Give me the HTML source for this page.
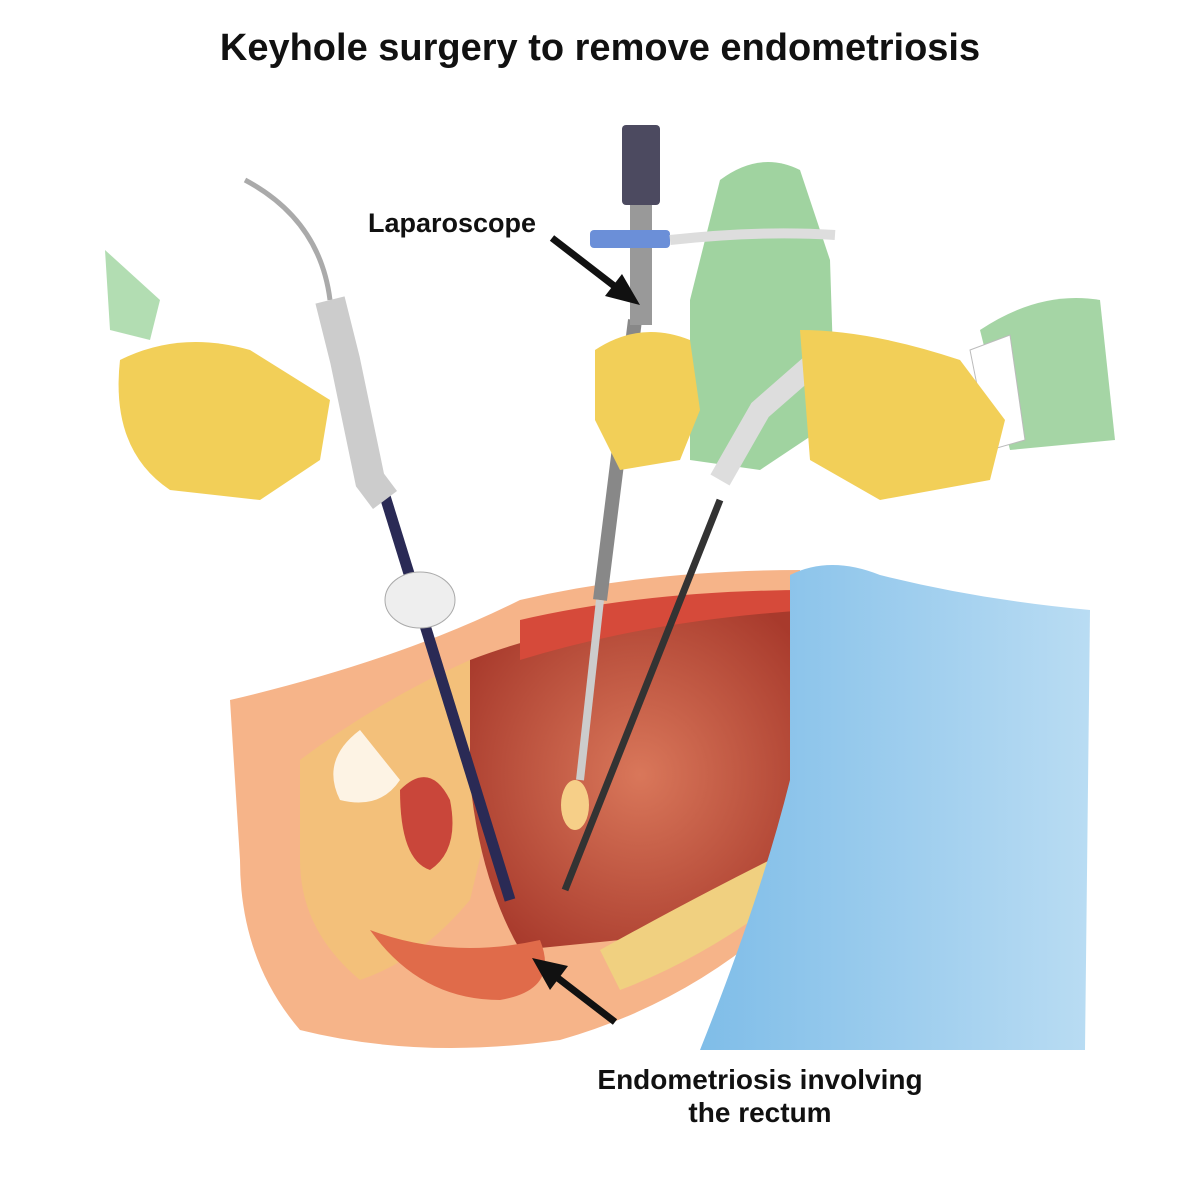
<!DOCTYPE html>
<html><head><meta charset="utf-8"><style>
html,body{margin:0;padding:0;background:#fff;}
body{width:1200px;height:1202px;position:relative;overflow:hidden;font-family:"Liberation Sans",sans-serif;}
.t{position:absolute;font-weight:bold;color:#111;white-space:nowrap;}
</style></head><body>
<svg width="1200" height="1202" style="position:absolute;left:0;top:0">
<defs>
<linearGradient id="blue" x1="0" y1="0" x2="1" y2="0"><stop offset="0" stop-color="#7fbde8"/><stop offset="1" stop-color="#b9dcf3"/></linearGradient>
<radialGradient id="cav" cx="0.5" cy="0.5" r="0.6"><stop offset="0" stop-color="#d9775a"/><stop offset="1" stop-color="#a83a2c"/></radialGradient>
</defs>
<path d="M720 180 Q760 150 800 170 L830 260 L835 420 L760 470 L690 460 L690 300 Z" fill="#8fcb8f" opacity="0.85"/>
<path d="M980 330 Q1040 290 1100 300 L1115 440 L1010 450 Z" fill="#8fcb8f" opacity="0.8"/>
<path d="M105 250 L160 300 L150 340 L110 330 Z" fill="#9fd49f" opacity="0.8"/>
<path d="M970 350 L1010 335 L1025 440 L990 450 Z" fill="#fff" stroke="#bbb"/>
<path d="M230 700 Q400 660 520 600 Q650 570 800 570 L800 900 Q700 1000 560 1040 Q420 1060 300 1030 Q240 960 240 860 Z" fill="#f6b489"/>
<path d="M300 760 Q380 700 470 660 L520 690 L470 900 Q420 960 360 980 Q300 930 300 860 Z" fill="#f3c07a"/>
<path d="M470 660 Q600 610 810 600 L810 860 Q720 920 620 940 L520 950 Q480 880 470 780 Z" fill="url(#cav)"/>
<path d="M520 620 Q650 590 810 590 L810 610 Q650 620 520 660 Z" fill="#d64a3a"/>
<path d="M340 800 Q320 760 360 730 L400 780 Q380 810 340 800 Z" fill="#fff" opacity="0.8"/>
<path d="M400 790 Q430 760 450 800 Q460 850 430 870 Q400 860 400 790 Z" fill="#c9463a"/>
<path d="M370 930 Q450 960 540 940 Q560 990 500 1000 Q420 1000 370 930 Z" fill="#e06b4a"/>
<path d="M600 950 Q690 900 770 860 L780 900 Q700 960 620 990 Z" fill="#f0d080"/>
<path d="M790 575 Q830 555 880 575 Q980 600 1090 610 L1085 1050 L700 1050 Q760 900 790 780 Z" fill="url(#blue)"/>
<line x1="380" y1="480" x2="510" y2="900" stroke="#2a2a55" stroke-width="11"/>
<line x1="720" y1="500" x2="565" y2="890" stroke="#333" stroke-width="7"/>
<line x1="635" y1="320" x2="600" y2="600" stroke="#888" stroke-width="14"/>
<line x1="600" y1="600" x2="580" y2="780" stroke="#ccc" stroke-width="8"/>
<ellipse cx="575" cy="805" rx="14" ry="25" fill="#f6cf88"/>
<rect x="622" y="125" width="38" height="80" rx="4" fill="#4c4a60"/>
<rect x="630" y="205" width="22" height="120" fill="#999"/>
<rect x="590" y="230" width="80" height="18" rx="4" fill="#6b8fd8"/>
<path d="M670 240 Q760 230 835 235" stroke="#ddd" stroke-width="10" fill="none"/>
<path d="M245 180 Q320 220 330 300" stroke="#aaa" stroke-width="5" fill="none"/>
<path d="M330 300 L345 360 L370 480 L385 500" stroke="#ccc" stroke-width="30" fill="none"/>
<ellipse cx="420" cy="600" rx="35" ry="28" fill="#eee" stroke="#aaa"/>
<path d="M840 340 L760 410 L720 480" stroke="#ddd" stroke-width="22" fill="none"/>
<path d="M120 360 Q180 330 250 350 L330 400 L320 460 L260 500 L170 490 Q110 450 120 360 Z" fill="#f2cf58"/>
<path d="M595 350 Q640 320 690 340 L700 410 L680 460 L620 470 L595 420 Z" fill="#f2cf58"/>
<path d="M800 330 Q870 330 960 360 L1005 420 L990 480 L880 500 L810 460 Z" fill="#f2cf58"/>
<line x1="552" y1="238" x2="622" y2="292" stroke="#111" stroke-width="7"/>
<polygon points="640,305 605,296 622,274" fill="#111"/>
<line x1="615" y1="1022" x2="550" y2="972" stroke="#111" stroke-width="7"/>
<polygon points="532,958 568,966 550,990" fill="#111"/>
</svg>
<div class="t" style="left:0;width:1200px;text-align:center;top:27px;font-size:38px;">Keyhole surgery to remove endometriosis</div>
<div class="t" style="left:368px;top:208px;font-size:27px;">Laparoscope</div>
<div class="t" style="left:560px;width:400px;text-align:center;top:1063px;font-size:28px;line-height:33px;white-space:normal;">Endometriosis involving<br>the rectum</div>
</body></html>
